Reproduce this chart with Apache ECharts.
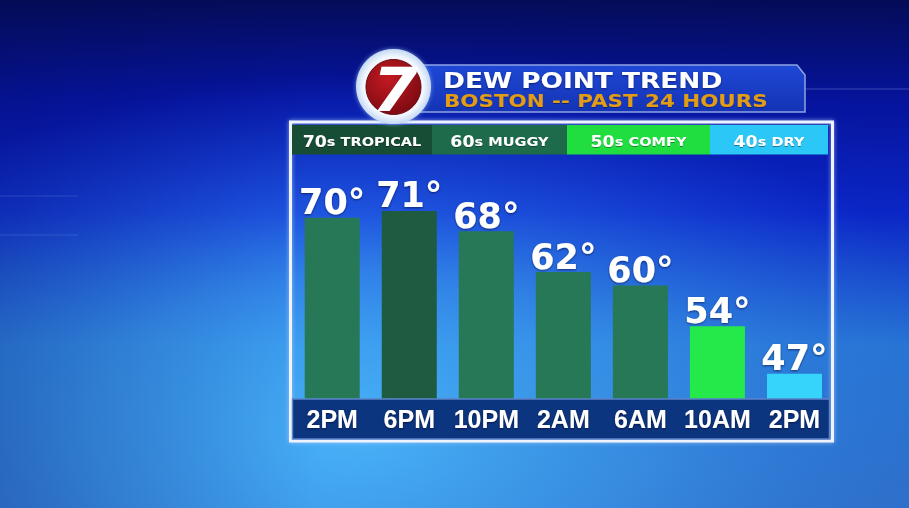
<!DOCTYPE html>
<html><head><meta charset="utf-8">
<script src="https://cdn.jsdelivr.net/npm/echarts@6/dist/echarts.min.js"></script>
<style>html,body{margin:0;padding:0;background:#0a1a9a;overflow:hidden}#c{width:909px;height:508px}</style>
</head><body><div id="c"></div>
<script>
// ---- data ----
const categories = ['2PM', '6PM', '10PM', '2AM', '6AM', '10AM', '2PM'];
const dewPoints = [70, 71, 68, 62, 60, 54, 47];
const legendRanges = ['70', '60', '50', '40'];
const legendNames = ['TROPICAL', 'MUGGY', 'COMFY', 'DRY'];
const titleText = 'DEW POINT TREND';
const subtitleText = 'BOSTON -- PAST 24 HOURS';

// ---- styles ----
const barColors = ['#267857', '#1f5b40', '#267857', '#267857', '#267857', '#25e84b', '#36d3fb'];
const legendColors = ['#174d35', '#1e6b4c', '#21de40', '#2bc7f6'];
const legendX = [292, 432, 567, 710, 828];

const chart = echarts.init(document.getElementById('c'), null, {renderer: 'svg'});

const graphics = [];
// background
graphics.push({
  type: 'rect', z: -100, silent: true,
  shape: {x: 0, y: 0, width: 909, height: 508},
  style: {fill: new echarts.graphic.LinearGradient(0, 0, 0, 1, [
    {offset: 0, color: '#040c58'},
    {offset: 0.2, color: '#0615a6'},
    {offset: 0.42, color: '#0c2ad6'},
    {offset: 0.68, color: '#2c84e6'},
    {offset: 1, color: '#357ed8'}
  ])}
});
graphics.push({
  type: 'rect', z: -99, silent: true,
  shape: {x: 0, y: 0, width: 909, height: 508},
  style: {fill: new echarts.graphic.RadialGradient(0.4, 0.85, 0.7, [
    {offset: 0, color: 'rgba(74,182,250,0.95)'},
    {offset: 0.45, color: 'rgba(62,160,242,0.6)'},
    {offset: 1, color: 'rgba(40,110,230,0)'}
  ])}
});
graphics.push({
  type: 'rect', z: -98, silent: true,
  shape: {x: 0, y: 0, width: 909, height: 508},
  style: {fill: new echarts.graphic.LinearGradient(0, 0, 1, 0, [
    {offset: 0, color: 'rgba(4,10,80,0.25)'},
    {offset: 0.35, color: 'rgba(4,10,80,0)'},
    {offset: 1, color: 'rgba(4,10,80,0.12)'}
  ])}
});
// faint decorative lines
graphics.push({type: 'line', z: -97, silent: true, shape: {x1: 805, y1: 89, x2: 909, y2: 89}, style: {stroke: 'rgba(120,140,230,0.45)', lineWidth: 1}});
graphics.push({type: 'line', z: -97, silent: true, shape: {x1: 0, y1: 196, x2: 78, y2: 196}, style: {stroke: 'rgba(120,150,230,0.25)', lineWidth: 1}});
graphics.push({type: 'line', z: -97, silent: true, shape: {x1: 0, y1: 235, x2: 78, y2: 235}, style: {stroke: 'rgba(120,160,240,0.25)', lineWidth: 1}});

// panel border
graphics.push({
  type: 'rect', z: -5, silent: true,
  shape: {x: 290.5, y: 122, width: 542, height: 319},
  style: {fill: 'rgba(0,0,0,0)', stroke: '#eef3ff', lineWidth: 3, shadowBlur: 4, shadowColor: 'rgba(180,210,255,0.8)'}
});
// legend boxes
for (let i = 0; i < 4; i++) {
  const x0 = legendX[i], x1 = legendX[i + 1];
  graphics.push({
    type: 'rect', z: -4, silent: true,
    shape: {x: x0, y: 125, width: x1 - x0, height: 29.5},
    style: {fill: legendColors[i]}
  });
  graphics.push({
    type: 'text', z: -3, silent: true,
    x: (x0 + x1) / 2, y: 141.5, scaleX: 1.12,
    style: {
      text: '{n|' + legendRanges[i] + '}{s|s ' + legendNames[i] + '}',
      align: 'center', verticalAlign: 'middle',
      rich: {
        n: {fontFamily: 'DejaVu Sans', fontWeight: 'bold', fontSize: 15.5, fill: '#ffffff'},
        s: {fontFamily: 'DejaVu Sans', fontWeight: 'bold', fontSize: 13, fill: '#ffffff'}
      },
      textShadowColor: 'rgba(0,0,0,0.4)', textShadowBlur: 1, textShadowOffsetY: 1
    }
  });
}
// x-axis band
graphics.push({
  type: 'rect', z: -4, silent: true,
  shape: {x: 292.5, y: 399, width: 537, height: 40},
  style: {fill: '#0c3580', stroke: '#5d83c8', lineWidth: 1.5}
});
// title banner
graphics.push({
  type: 'polygon', z: 10, silent: true,
  shape: {points: [[412, 65], [797, 65], [805, 75], [805, 112], [412, 112]]},
  style: {
    fill: new echarts.graphic.LinearGradient(0, 0, 0, 1, [
      {offset: 0, color: '#1e48d6'}, {offset: 1, color: '#1433b4'}
    ]),
    stroke: '#8ea4e2', lineWidth: 1.5
  }
});
graphics.push({
  type: 'text', z: 11, silent: true, x: 443, y: 80, scaleX: 1.2,
  style: {text: titleText, fontFamily: 'DejaVu Sans', fontWeight: 'bold', fontSize: 22, fill: '#ffffff',
    align: 'left', verticalAlign: 'middle', textShadowColor: 'rgba(0,0,40,0.5)', textShadowBlur: 2, textShadowOffsetY: 1}
});
graphics.push({
  type: 'text', z: 11, silent: true, x: 444, y: 101.5, scaleX: 1.19,
  style: {text: subtitleText, fontFamily: 'DejaVu Sans', fontWeight: 'bold', fontSize: 18, fill: '#e39c12',
    align: 'left', verticalAlign: 'middle', textShadowColor: 'rgba(0,0,40,0.4)', textShadowBlur: 1, textShadowOffsetY: 1}
});
// logo
graphics.push({
  type: 'circle', z: 12, silent: true, shape: {cx: 393.5, cy: 86.5, r: 37.5},
  style: {fill: new echarts.graphic.RadialGradient(0.5, 0.5, 0.5, [
    {offset: 0, color: '#ffffff'}, {offset: 0.8, color: '#f2f7ff'}, {offset: 1, color: '#c4d8f2'}
  ]), shadowBlur: 4, shadowColor: 'rgba(150,190,255,0.7)'}
});
graphics.push({
  type: 'circle', z: 13, silent: true, shape: {cx: 393.5, cy: 87, r: 27.5},
  style: {fill: new echarts.graphic.RadialGradient(0.4, 0.35, 0.7, [
    {offset: 0, color: '#c21a22'}, {offset: 1, color: '#7c0a12'}
  ]), stroke: '#6a0a10', lineWidth: 1}
});
graphics.push({
  type: 'text', z: 14, silent: true, x: 395, y: 90, scaleX: 1.1,
  style: {text: '7', fontFamily: 'DejaVu Sans', fontWeight: 'bold', fontStyle: 'italic', fontSize: 60, fill: '#ffffff',
    align: 'center', verticalAlign: 'middle'}
});

const option = {
  animation: false,
  backgroundColor: '#0a1a9a',
  grid: {left: 293.7, right: 76, top: 163.4, bottom: 109.7, containLabel: false},
  xAxis: {
    type: 'category',
    data: categories,
    axisLine: {show: false},
    axisTick: {show: false},
    splitLine: {show: false},
    axisLabel: {
      color: '#ffffff', fontFamily: 'Liberation Sans', fontWeight: 'bold', fontSize: 25,
      lineHeight: 25, margin: 8, interval: 0,
      textShadowColor: 'rgba(0,0,30,0.6)', textShadowBlur: 2, textShadowOffsetY: 1
    }
  },
  yAxis: {type: 'value', min: 43.4, max: 78, show: false, splitLine: {show: false}},
  series: [{
    type: 'bar',
    barWidth: 55,
    data: dewPoints.map((v, i) => ({value: v, itemStyle: {color: barColors[i]}})),
    label: {
      show: true, position: 'top', distance: -2,
      formatter: '{c}°',
      color: '#ffffff', fontFamily: 'DejaVu Sans', fontWeight: 'bold', fontSize: 35,
      textShadowColor: 'rgba(0,0,30,0.55)', textShadowBlur: 2, textShadowOffsetY: 1
    }
  }],
  graphic: {elements: graphics}
};
chart.setOption(option);
</script>
</body></html>
